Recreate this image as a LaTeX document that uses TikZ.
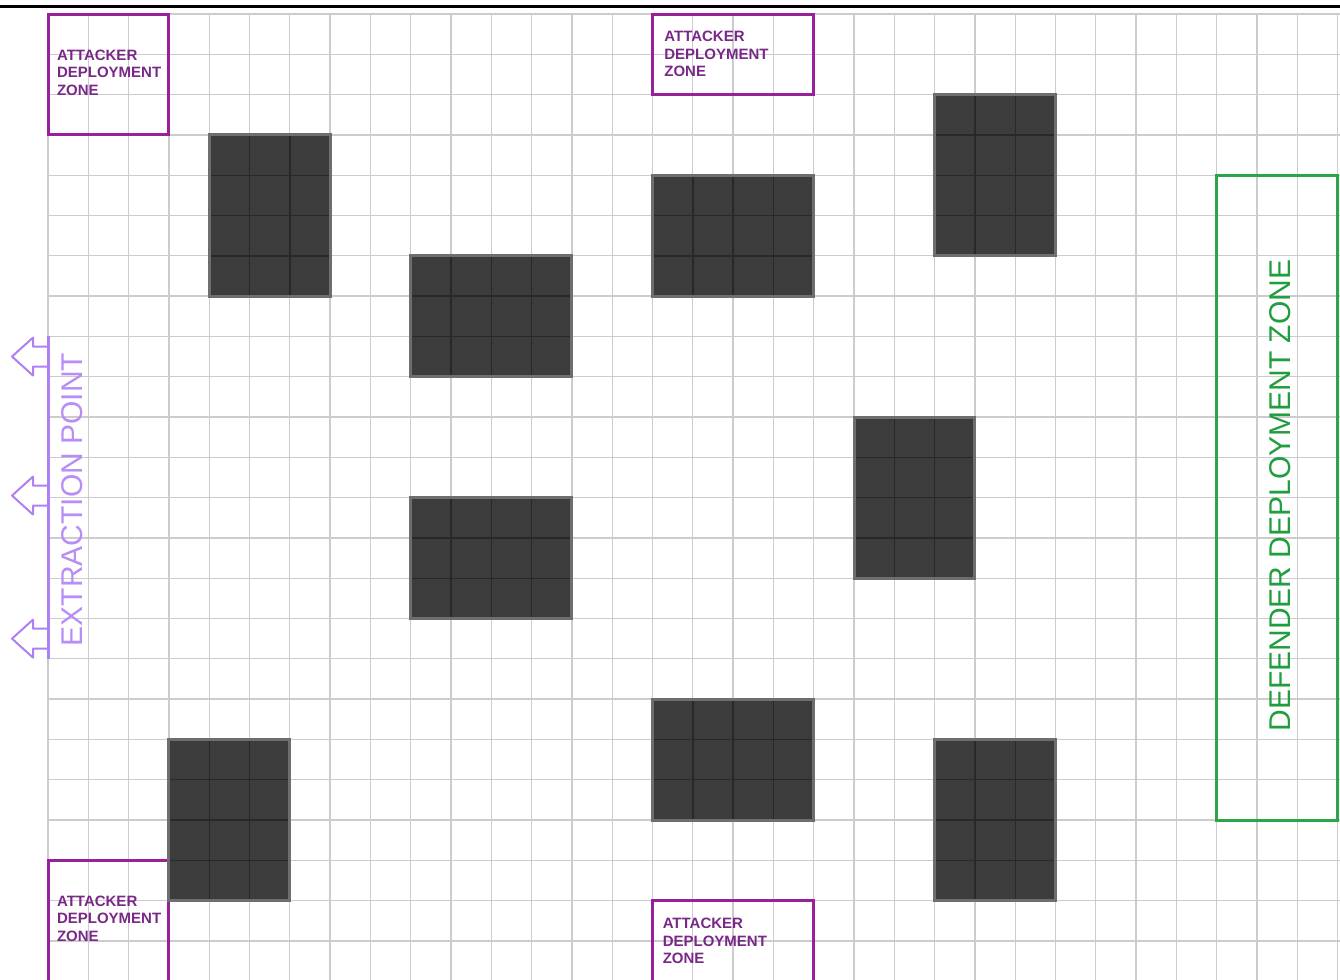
\documentclass[tikz,border=0pt]{standalone}
\usepackage{fontspec}
\setmainfont{Liberation Sans}
\definecolor{gridgray}{RGB}{204,204,204}
\definecolor{blockfill}{RGB}{60,60,60}
\definecolor{blockline}{RGB}{40,40,40}
\definecolor{blockedge}{RGB}{110,110,110}
\definecolor{adzpurple}{RGB}{152,32,154}
\definecolor{adztextc}{RGB}{122,40,136}
\definecolor{exviolet}{RGB}{174,128,242}
\definecolor{extextc}{RGB}{184,142,246}
\definecolor{defgreen}{RGB}{40,166,72}
\definecolor{deftextc}{RGB}{32,158,62}
\tikzset{
  gridline/.style={draw=gridgray, line width=1.3pt},
  blockbody/.style={fill=blockfill},
  blockinner/.style={draw=blockline, line width=1.4pt},
  blockborder/.style={draw=blockedge, line width=3pt},
  adzbox/.style={draw=adzpurple, line width=3pt},
  adztext/.style={text=adztextc, inner sep=0pt, align=left, anchor=west,
    font=\fontsize{15}{17.5}\selectfont\bfseries},
  exline/.style={draw=exviolet, line width=3pt},
  exarrow/.style={draw=exviolet, line width=2pt, line join=round},
  extext/.style={text=extextc, inner sep=0pt, rotate=90, font=\fontsize{30}{30}\selectfont},
  defbox/.style={draw=defgreen, line width=3pt},
  deftext/.style={text=deftextc, inner sep=0pt, rotate=90, font=\fontsize{30}{30}\selectfont},
}
\begin{document}
\begin{tikzpicture}[x=40.3pt,y=-40.3pt]
\useasboundingbox[fill=white] (-1.1911,-0.3474) rectangle (32.060,23.970);
% grid
\foreach \c in {0,...,32} \draw[gridline] (\c,0) -- (\c,23.97);
\foreach \r in {0,...,23} \draw[gridline] (0,\r) -- (32.06,\r);
% top rule
\draw[line width=2.6pt, black] (-1.1911,-0.186) -- (32.06,-0.186);
% attacker deployment zones (boxes)
\draw[adzbox] (0,0) rectangle (3,3);
\draw[adzbox] (15,0) rectangle (19,2);
\draw[adzbox] (0,21) rectangle (3,24);
\draw[adzbox] (15,22) rectangle (19,24);
% obstacles
\foreach \c/\r/\w/\h in {4/3/3/4, 9/6/4/3, 15/4/4/3, 22/2/3/4, 9/12/4/3, 20/10/3/4, 3/18/3/4, 15/17/4/3, 22/18/3/4}{
  \fill[blockbody] (\c,\r) rectangle ++(\w,\h);
  \foreach \k in {1,2,3}{
    \ifnum\k<\w \draw[blockinner] (\c+\k,\r) -- ++(0,\h); \fi
    \ifnum\k<\h \draw[blockinner] (\c,\r+\k) -- ++(\w,0); \fi
  }
  \draw[blockborder] (\c,\r) rectangle ++(\w,\h);
}
% attacker texts
\node[adztext] (adz1) at (0.22,1.45) {ATTACKER\\DEPLOYMENT\\ZONE};
\node[adztext] (adz2) at (15.29,1.0) {ATTACKER\\DEPLOYMENT\\ZONE};
\node[adztext] (adz3) at (0.22,22.45) {ATTACKER\\DEPLOYMENT\\ZONE};
\node[adztext] (adz4) at (15.25,23.0) {ATTACKER\\DEPLOYMENT\\ZONE};
% extraction point
\draw[exline] (0,8) -- (0,16);
\coordinate (ex1) at (0,8.5);
\coordinate (ex2) at (0,11.95);
\coordinate (ex3) at (0,15.5);
\foreach \e in {ex1,ex2,ex3}{
  \draw[exarrow] (\e) ++(0,-0.248) -- ++(-0.372,0) -- ++(0,-0.223) -- ++(-0.521,0.471)
    -- ++(0.521,0.471) -- ++(0,-0.223) -- ++(0.372,0);
}
\node[extext] (extxt) at (0.6,12.05) {EXTRACTION POINT};
% defender deployment zone
\draw[defbox] (29,4) rectangle (32,20);
\node[deftext] (deftxt) at (30.57,11.95) {DEFENDER DEPLOYMENT ZONE};
\end{tikzpicture}
\end{document}
